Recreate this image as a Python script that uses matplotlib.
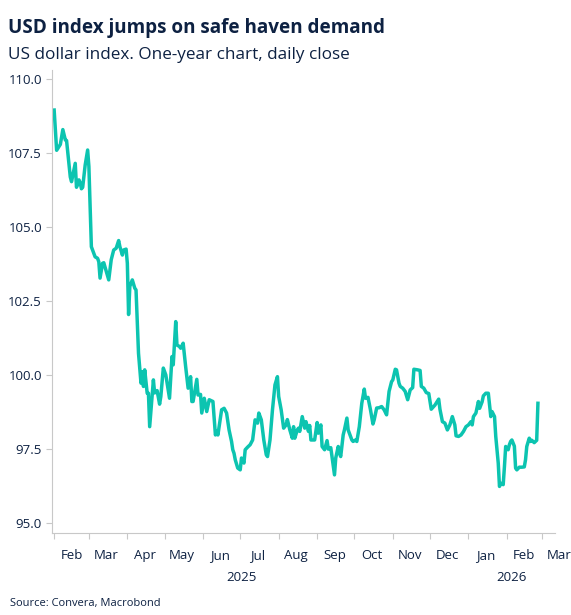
import matplotlib
matplotlib.use("Agg")
import matplotlib.pyplot as plt
import matplotlib.dates as mdates
import pandas as pd

# US dollar index, daily close, days counted from 1 Feb 2025
start = pd.Timestamp("2025-02-01")
day_offsets = [
    0, 2, 5, 7, 9, 10, 13, 14, 17, 18, 20, 21, 22, 23, 25, 27, 28, 30, 33, 35,
    36, 37, 39, 40, 44, 46, 48, 50, 52, 53, 55, 56, 58, 59, 60, 61, 63, 65, 66, 68,
    70, 71, 72, 73, 75, 76, 77, 80, 81, 83, 85, 86, 88, 90, 93, 95, 96, 98, 99, 101,
    102, 104, 106, 108, 110, 111, 112, 115, 116, 118, 119, 121, 123, 125, 128, 130, 131, 132, 135, 137,
    139, 141, 143, 144, 145, 146, 148, 150, 151, 153, 154, 156, 158, 160, 162, 164, 165, 167, 169, 171,
    172, 174, 176, 178, 180, 181, 183, 185, 187, 188, 190, 192, 193, 194, 196, 197, 198, 200, 202, 203,
    205, 206, 207, 210, 212, 213, 215, 216, 218, 220, 221, 223, 224, 226, 227, 229, 230, 231, 233, 234,
    236, 237, 240, 241, 243, 244, 246, 248, 250, 251, 253, 255, 257, 258, 260, 262, 264, 266, 268, 270,
    272, 273, 275, 276, 278, 279, 281, 283, 285, 287, 289, 290, 293, 295, 296, 298, 300, 302, 304, 306,
    307, 310, 311, 313, 315, 317, 319, 321, 323, 324, 326, 328, 330, 332, 334, 336, 337, 338, 340, 342,
    343, 345, 346, 348, 350, 351, 352, 353, 355, 356, 358, 359, 360, 362, 363, 364, 366, 367, 368, 369,
    371, 372, 373, 375, 377, 379, 380, 381, 383, 384, 385, 387, 389, 390,
]
dxy_close = [
    108.96, 107.60, 107.80, 108.30, 107.95, 107.93, 106.70, 106.54, 107.16, 106.35,
    106.60, 106.50, 106.30, 106.35, 107.10, 107.61, 107.05, 104.34, 104.00, 103.95,
    103.83, 103.28, 103.78, 103.80, 103.22, 103.90, 104.23, 104.29, 104.55, 104.34,
    104.06, 104.23, 104.26, 103.78, 102.05, 103.00, 103.22, 102.94, 102.88, 100.74,
    99.73, 100.12, 99.62, 100.18, 99.39, 99.39, 98.26, 99.84, 99.40, 99.48,
    99.02, 99.28, 100.24, 100.01, 99.22, 100.63, 100.35, 101.81, 101.02, 100.97,
    100.91, 101.08, 100.29, 99.56, 99.95, 99.11, 99.11, 99.86, 99.33, 99.35,
    98.72, 99.22, 98.77, 99.17, 99.11, 97.98, 98.10, 97.98, 98.83, 98.88,
    98.72, 98.15, 97.76, 97.48, 97.36, 97.14, 96.86, 96.80, 97.20, 97.03,
    97.48, 97.57, 97.65, 97.81, 98.49, 98.38, 98.72, 98.49, 97.81, 97.31,
    97.25, 97.81, 98.83, 99.67, 99.95, 99.28, 98.83, 98.21, 98.32, 98.50,
    98.15, 97.87, 98.26, 97.87, 98.15, 98.21, 98.10, 98.60, 98.21, 98.43,
    98.10, 98.30, 97.81, 97.81, 98.40, 98.04, 98.32, 97.59, 97.48, 97.79,
    97.50, 97.55, 97.25, 96.63, 97.20, 97.59, 97.36, 97.25, 97.98, 98.15,
    98.55, 98.15, 97.81, 97.76, 97.81, 97.76, 98.26, 99.05, 99.53, 99.22,
    99.25, 98.83, 98.35, 98.49, 98.89, 98.90, 98.94, 98.83, 98.66, 99.45,
    99.78, 99.84, 100.20, 100.18, 99.73, 99.62, 99.56, 99.45, 99.17, 99.50,
    99.58, 100.20, 100.18, 100.16, 99.62, 99.56, 99.41, 99.38, 98.85, 98.94,
    98.99, 99.19, 98.85, 98.43, 98.38, 98.15, 98.32, 98.60, 98.32, 97.95,
    97.93, 97.98, 98.10, 98.26, 98.32, 98.43, 98.32, 98.60, 98.72, 99.11,
    98.88, 99.10, 99.30, 99.39, 99.39, 99.00, 98.60, 98.77, 98.60, 97.93,
    97.03, 96.24, 96.35, 96.30, 96.91, 97.59, 97.48, 97.65, 97.76, 97.81,
    97.60, 96.86, 96.80, 96.89, 96.89, 96.90, 97.14, 97.59, 97.87, 97.76,
    97.80, 97.72, 97.80, 99.05,
]
y_ticks = [95.0, 97.5, 100.0, 102.5, 105.0, 107.5, 110.0]
year_labels = ["2025", "2026"]

title = "USD index jumps on safe haven demand"
subtitle = "US dollar index. One-year chart, daily close"
source = "Source: Convera, Macrobond"

navy = "#0d2142"
teal = "#0cc4b0"
axis_grey = "#c8c8c8"

plt.rcParams["font.family"] = ["Open Sans", "DejaVu Sans"]

dates = start + pd.to_timedelta(day_offsets, unit="D")

fig = plt.figure(figsize=(5.71, 6.15), dpi=100)
ax = fig.add_axes([0.0905, 0.134, 0.882, 0.752])
ax.plot(dates, dxy_close, color=teal, lw=2.5, solid_joinstyle="round")

x0 = pd.Timestamp("2025-01-30")
x1 = pd.Timestamp("2026-03-12")
ax.set_xlim(x0, x1)
ax.set_ylim(94.68, 110.31)

ax.set_yticks(y_ticks)
ax.set_yticklabels([f"{t:.1f}" for t in y_ticks])

ax.xaxis.set_major_locator(mdates.MonthLocator())
ax.xaxis.set_major_formatter(plt.NullFormatter())
ax.tick_params(axis="both", colors=axis_grey, labelcolor=navy, labelsize=9.5,
               length=4, width=0.8)
ax.tick_params(axis="y", pad=3)

for side in ["top", "right"]:
    ax.spines[side].set_visible(False)
for side in ["left", "bottom"]:
    ax.spines[side].set_color(axis_grey)
    ax.spines[side].set_linewidth(0.8)

# month names centred in each month, years centred under their span
trans = ax.get_xaxis_transform()
for m in pd.date_range("2025-02-01", "2026-03-01", freq="MS"):
    ax.text(m + pd.Timedelta(days=14), -0.05, m.strftime("%b"), transform=trans,
            ha="center", va="center", fontsize=9.5, color=navy, clip_on=False)
for yl in year_labels:
    lo = pd.Timestamp(f"{yl}-01-01")
    hi = min(pd.Timestamp(f"{yl}-12-31"), x1)
    ax.text(lo + (hi - lo) / 2, -0.097, yl, transform=trans,
            ha="center", va="center", fontsize=9.5, color=navy)

fig.text(0.014, 0.955, title, fontsize=13.6, fontweight="bold", color=navy,
         ha="left", va="center")
fig.text(0.014, 0.910, subtitle, fontsize=12.3, color=navy, ha="left", va="center")
fig.text(0.017, 0.018, source, fontsize=8, color=navy, ha="left", va="center")

fig.savefig("out.png", dpi=100)
